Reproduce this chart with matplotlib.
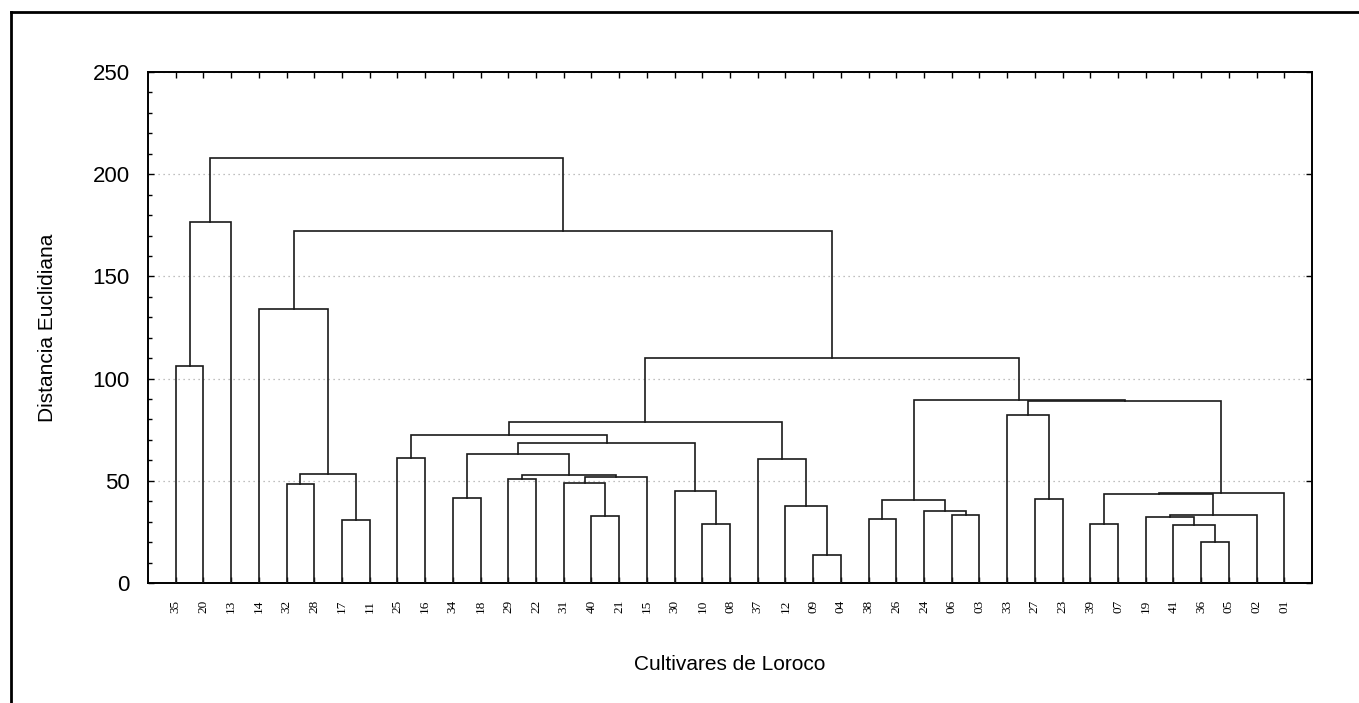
import matplotlib
matplotlib.use("Agg")
import matplotlib.pyplot as plt
from matplotlib.ticker import MultipleLocator
from matplotlib.lines import Line2D

# leaf order along the x axis
leaves = ["35", "20", "13", "14", "32", "28", "17", "11", "25", "16", "34", "18",
          "29", "22", "31", "40", "21", "15", "30", "10", "08", "37", "12", "09",
          "04", "38", "26", "24", "06", "03", "33", "27", "23", "39", "07", "19",
          "41", "36", "05", "02", "01"]

# merges: (left, right, linkage distance); ints refer to earlier merges
merges = [
    ("35", "20", 106.0),   # 0
    (0, "13", 176.6),      # 1
    ("32", "28", 48.3),    # 2
    ("17", "11", 31.0),    # 3
    (2, 3, 53.5),          # 4
    ("14", 4, 134.2),      # 5
    ("25", "16", 61.0),    # 6
    ("34", "18", 41.4),    # 7
    ("29", "22", 50.9),    # 8
    ("40", "21", 33.0),    # 9
    ("31", 9, 48.7),       # 10
    (10, "15", 52.1),      # 11
    (8, 11, 52.6),         # 12
    (7, 12, 63.0),         # 13
    ("10", "08", 28.9),    # 14
    ("30", 14, 45.2),      # 15
    (13, 15, 68.6),        # 16
    (6, 16, 72.6),         # 17
    ("09", "04", 13.9),    # 18
    ("12", 18, 37.8),      # 19
    ("37", 19, 60.7),      # 20
    (17, 20, 78.6),        # 21
    ("38", "26", 31.3),    # 22
    ("06", "03", 33.3),    # 23
    ("24", 23, 35.4),      # 24
    (22, 24, 40.6),        # 25
    ("27", "23", 41.1),    # 26
    ("33", 26, 82.2),      # 27
    ("39", "07", 29.0),    # 28
    ("36", "05", 19.9),    # 29
    ("41", 29, 28.5),      # 30
    ("19", 30, 32.5),      # 31
    (31, "02", 33.1),      # 32
    (28, 32, 43.4),        # 33
    (33, "01", 43.8),      # 34
    (27, 34, 88.8),        # 35
    (25, 35, 89.5),        # 36
    (21, 36, 110.2),       # 37
    (5, 37, 172.2),        # 38
    (1, 38, 207.7),        # 39
]

fig = plt.figure(figsize=(13.59, 7.03), dpi=100)
ax = fig.add_axes([148 / 1359, 1 - 583 / 703, (1312 - 148) / 1359, (583 - 72) / 703])

leaf_x = {name: i + 1 for i, name in enumerate(leaves)}
node_x, node_h = [], []


def pos(node):
    if isinstance(node, str):
        return leaf_x[node], 0.0
    return node_x[node], node_h[node]


for a, b, h in merges:
    xa, ha = pos(a)
    xb, hb = pos(b)
    ax.plot([xa, xa, xb, xb], [ha, h, h, hb], color="#1a1a1a", lw=1.2,
            solid_joinstyle="miter", zorder=3)
    node_x.append((xa + xb) / 2)
    node_h.append(h)

ax.set_xlim(0, len(leaves) + 1)
ax.set_ylim(0, 250)

ax.set_xticks(range(1, len(leaves) + 1))
ax.set_xticklabels(leaves, rotation=90, family="Liberation Serif", fontsize=9.5)
ax.yaxis.set_major_locator(MultipleLocator(50))
ax.yaxis.set_minor_locator(MultipleLocator(10))
for lab in ax.get_yticklabels():
    lab.set_family("Liberation Sans")
    lab.set_fontsize(16)

ax.tick_params(axis="x", direction="in", length=4, width=1, top=True, pad=12)
ax.tick_params(axis="y", which="major", direction="in", length=4, width=1,
               right=True, pad=13)
ax.tick_params(axis="y", which="minor", direction="in", length=3, width=1,
               right=False)

ax.grid(axis="y", which="major", linestyle=(0, (1, 3)), color="#aaaaaa", lw=0.9)
ax.set_axisbelow(True)
for sp in ax.spines.values():
    sp.set_linewidth(1.4)
    sp.set_color("black")

ax.set_xlabel("Cultivares de Loroco", family="Liberation Sans", fontsize=15,
              labelpad=30)
ax.set_ylabel("Distancia Euclidiana", family="Liberation Sans", fontsize=15,
              labelpad=26)

# open frame around the figure
fx, fy = 11 / 1359, 1 - 12 / 703
fig.add_artist(Line2D([fx, 1.01], [fy, fy], color="black", lw=2,
                      transform=fig.transFigure))
fig.add_artist(Line2D([fx, fx], [fy, -0.01], color="black", lw=2,
                      transform=fig.transFigure))

fig.savefig("out.png", dpi=100)
